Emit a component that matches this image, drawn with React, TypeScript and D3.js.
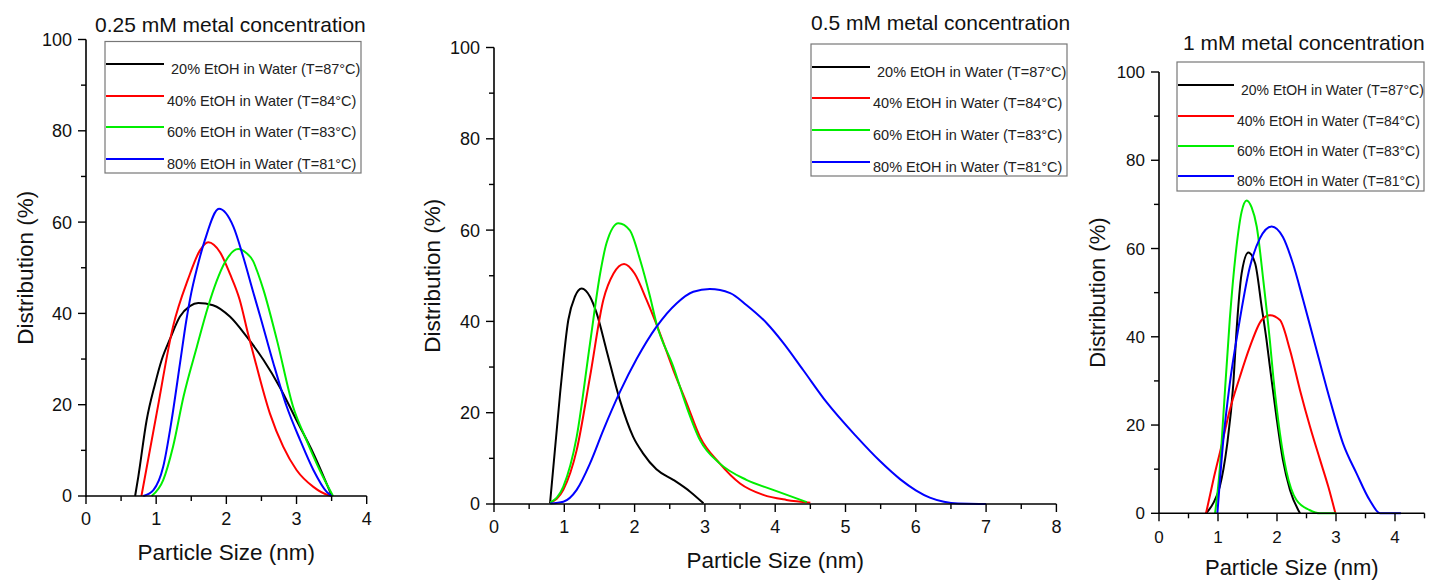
import React from "react";
import * as d3 from "d3";

// ---------- DATA ----------
const seriesLabels = [
  "20% EtOH in Water (T=87\u00B0C)",
  "40% EtOH in Water (T=84\u00B0C)",
  "60% EtOH in Water (T=83\u00B0C)",
  "80% EtOH in Water (T=81\u00B0C)",
];
const seriesColors = ["#000000", "#ff0000", "#00ee00", "#0000ff"];
const titles = ["0.25 mM metal concentration", "0.5 mM metal concentration", "1 mM metal concentration"];
const yTicks = [0, 20, 40, 60, 80, 100];
const xTicks1 = [0, 1, 2, 3, 4];
const xTicks2 = [0, 1, 2, 3, 4, 5, 6, 7, 8];
const xTicks3 = [0, 1, 2, 3, 4];
const xLabel = "Particle Size (nm)";
const yLabel = "Distribution (%)";

// 0.25 mM
const p1Black: [number, number][] = [
  [0.7, 0], [0.745, 4.2], [0.864, 16.6], [0.983, 24.5], [1.078, 29.8], [1.197, 34.4], [1.339, 39.3],
  [1.48, 41.6], [1.6, 42.3], [1.81, 41.8], [2.05, 39.3], [2.29, 34.9], [2.53, 29.8], [2.76, 23.9],
  [3.0, 16.6], [3.24, 9.35], [3.5, 0.1],
];
const p1Red: [number, number][] = [
  [0.79, 0], [1.007, 18.1], [1.24, 37.1], [1.457, 47.6], [1.62, 53.7], [1.743, 55.6], [1.91, 53.4],
  [2.05, 48.7], [2.19, 43.0], [2.31, 35.5], [2.38, 31.4], [2.62, 18.1], [2.81, 10.8], [3.0, 5.7],
  [3.24, 2.0], [3.45, 0.2], [3.5, 0],
];
const p1Green: [number, number][] = [
  [0.935, 0], [1.1, 3.5], [1.24, 10.8], [1.39, 21.8], [1.58, 32.7], [1.74, 41.5], [1.86, 47.0],
  [1.98, 51.2], [2.17, 54.1], [2.28, 53.3], [2.38, 51.5], [2.45, 48.8], [2.53, 45.1], [2.72, 34.2],
  [2.95, 19.6], [3.14, 12.3], [3.33, 5.7], [3.52, 0],
];
const p1Blue: [number, number][] = [
  [0.816, 0], [0.96, 1.3], [1.1, 6.4], [1.22, 16.6], [1.34, 29.1], [1.43, 38.5], [1.5, 44.5],
  [1.58, 49.8], [1.695, 56.1], [1.895, 62.9], [2.1, 59.0], [2.24, 52.4], [2.38, 44.8], [2.48, 39.5],
  [2.67, 29.1], [2.86, 19.6], [3.05, 12.3], [3.24, 5.7], [3.43, 0.9], [3.5, 0],
];

// 0.5 mM
const p2Black: [number, number][] = [
  [0.797, 0.15], [0.94, 24.2], [1.057, 40.3], [1.15, 45.4], [1.247, 47.2], [1.366, 45.4], [1.46, 41.8],
  [1.6, 33.7], [1.79, 22.8], [1.98, 14.7], [2.12, 11.1], [2.31, 7.6], [2.55, 5.3], [2.79, 2.7],
  [2.98, 0.15],
];
const p2Red: [number, number][] = [
  [0.8, 0.3], [0.986, 3.1], [1.176, 11.8], [1.366, 27.9], [1.555, 44.7], [1.7, 50.5], [1.85, 52.6],
  [2.0, 50.5], [2.17, 44.7], [2.36, 37.4], [2.55, 29.4], [2.74, 22.1], [2.93, 14.7], [3.21, 8.9],
  [3.5, 4.5], [3.83, 2.0], [4.16, 0.9], [4.5, 0.3],
];
const p2Green: [number, number][] = [
  [0.8, 0.3], [0.986, 3.8], [1.176, 14.7], [1.366, 35.2], [1.51, 50.5], [1.6, 57.1], [1.77, 61.5],
  [1.93, 60.0], [2.08, 53.4], [2.22, 45.4], [2.31, 39.6], [2.55, 30.1], [2.74, 21.3], [2.93, 14.0],
  [3.21, 8.9], [3.59, 5.3], [3.97, 3.1], [4.45, 0.4],
];
const p2Blue: [number, number][] = [
  [0.8, 0.1], [0.986, 0.5], [1.176, 3.1], [1.366, 8.9], [1.555, 16.2], [1.79, 24.5], [2.03, 31.8],
  [2.31, 38.8], [2.6, 44.0], [2.835, 46.5], [3.07, 47.1], [3.36, 46.2], [3.59, 43.6], [3.88, 39.6],
  [4.12, 35.2], [4.4, 29.3], [4.73, 22.3], [5.16, 14.7], [5.49, 9.4], [5.78, 5.4], [6.0, 3.0],
  [6.2, 1.4], [6.4, 0.5], [6.6, 0.1], [6.9, 0], [7.0, 0],
];

// 1 mM
const p3Black: [number, number][] = [
  [0.797, 0], [0.92, 2.3], [1.03, 6.0], [1.15, 15.1], [1.26, 29.4], [1.31, 40.5], [1.4, 54.3],
  [1.514, 59.1], [1.63, 56.6], [1.74, 46.8], [1.82, 39.5], [1.88, 33.2], [1.99, 21.9], [2.1, 12.1],
  [2.22, 5.3], [2.39, 0],
];
const p3Red: [number, number][] = [
  [0.797, 0], [0.92, 7.5], [1.06, 15.3], [1.2, 23.4], [1.37, 30.9], [1.54, 37.7], [1.74, 43.8],
  [1.88, 44.9], [2.05, 43.8], [2.22, 37.0], [2.39, 27.9], [2.56, 19.6], [2.73, 12.1], [2.87, 6.0],
  [2.99, 0],
];
const p3Green: [number, number][] = [
  [0.95, 0], [1.03, 10.0], [1.09, 22.0], [1.2, 44.0], [1.31, 60.0], [1.4, 68.3], [1.486, 70.9],
  [1.57, 69.3], [1.656, 65.0], [1.768, 52.8], [1.88, 39.0], [1.94, 30.5], [2.05, 18.1], [2.16, 9.5],
  [2.33, 3.0], [2.55, 0.75], [2.73, 0], [3.0, 0],
];
const p3Blue: [number, number][] = [
  [0.99, 0], [1.09, 16.6], [1.2, 29.4], [1.34, 41.5], [1.54, 55.8], [1.71, 62.3], [1.91, 65.0],
  [2.1, 62.6], [2.27, 56.6], [2.44, 48.5], [2.615, 39.8], [2.9, 25.6], [3.12, 15.8],
  [3.35, 9.0], [3.57, 3.0], [3.75, 0], [4.1, 0],
];

// ---------- LAYOUT ----------
type Panel = {
  data: [number, number][][];
  xMax: number;
  xTicks: number[];
  left: number; right: number; top: number; bottom: number;
  title: string; titleX: number; titleY: number;
  leg: { x: number; y: number; w: number; h: number; lines: number[]; x2: number; textX: number[]; fs: number };
  yTitleX: number; xTitleY: number;
  tickFs: number; axisFs: number; xLabOff: number;
};

const panels: Panel[] = [
  {
    data: [p1Black, p1Red, p1Green, p1Blue], xMax: 4, xTicks: xTicks1,
    left: 86, right: 366.7, top: 39.5, bottom: 496,
    title: titles[0], titleX: 95, titleY: 31.5,
    leg: { x: 105, y: 41.5, w: 256, h: 131.5, lines: [64, 96, 127, 159], x2: 164, textX: [171, 167, 167, 167], fs: 14.5 },
    yTitleX: 33, xTitleY: 560, tickFs: 18, axisFs: 22.5, xLabOff: 29,
  },
  {
    data: [p2Black, p2Red, p2Green, p2Blue], xMax: 8, xTicks: xTicks2,
    left: 494, right: 1056.4, top: 47.5, bottom: 504,
    title: titles[1], titleX: 811, titleY: 29.5,
    leg: { x: 811, y: 44, w: 256, h: 132, lines: [67, 98, 130, 162], x2: 870, textX: [877, 873, 873, 873], fs: 14.5 },
    yTitleX: 440, xTitleY: 568, tickFs: 18, axisFs: 22.5, xLabOff: 29,
  },
  {
    data: [p3Black, p3Red, p3Green, p3Blue], xMax: 4.5, xTicks: xTicks3,
    left: 1159, right: 1424.5, top: 72, bottom: 513.3,
    title: titles[2], titleX: 1183, titleY: 50,
    leg: { x: 1177, y: 62, w: 247, h: 129, lines: [85, 116, 146, 176], x2: 1234, textX: [1241, 1237, 1237, 1237], fs: 14 },
    yTitleX: 1105, xTitleY: 575, tickFs: 17, axisFs: 22, xLabOff: 30,
  },
];

const FONT = "'Liberation Sans', Arial, sans-serif";

function PanelView({ p }: { p: Panel }) {
  const x = d3.scaleLinear().domain([0, p.xMax]).range([p.left, p.right]);
  const y = d3.scaleLinear().domain([0, 100]).range([p.bottom, p.top]);
  const line = d3
    .line<[number, number]>()
    .x((d) => x(d[0]))
    .y((d) => y(d[1]))
    .curve(d3.curveMonotoneX);
  const minorX = d3.range(0, p.xMax + 0.001, 0.5).filter((v) => Math.abs(v - Math.round(v)) > 0.01);
  const minorY = d3.range(10, 100, 20);
  return (
    <g fontFamily={FONT}>
      {p.data.map((s, i) => (
        <path key={i} d={line(s) || ""} fill="none" stroke={seriesColors[i]} strokeWidth={2} strokeLinejoin="round" />
      ))}
      {/* axes */}
      <line x1={p.left} x2={p.right} y1={p.bottom} y2={p.bottom} stroke="#000" strokeWidth={1.6} />
      <line x1={p.left} x2={p.left} y1={p.bottom + 0.8} y2={p.top} stroke="#000" strokeWidth={1.6} />
      {yTicks.map((t) => (
        <g key={"y" + t}>
          <line x1={p.left - 8} x2={p.left} y1={y(t)} y2={y(t)} stroke="#000" strokeWidth={1.4} />
          <text x={p.left - 14} y={y(t)} dy="0.36em" textAnchor="end" fontSize={p.tickFs} fill="#111">
            {t}
          </text>
        </g>
      ))}
      {minorY.map((t) => (
        <line key={"my" + t} x1={p.left - 5} x2={p.left} y1={y(t)} y2={y(t)} stroke="#000" strokeWidth={1.4} />
      ))}
      {p.xTicks.map((t) => (
        <g key={"x" + t}>
          <line x1={x(t)} x2={x(t)} y1={p.bottom} y2={p.bottom + 8} stroke="#000" strokeWidth={1.4} />
          <text x={x(t)} y={p.bottom + p.xLabOff} textAnchor="middle" fontSize={p.tickFs} fill="#111">
            {t}
          </text>
        </g>
      ))}
      {minorX.map((t) => (
        <line key={"mx" + t} x1={x(t)} x2={x(t)} y1={p.bottom} y2={p.bottom + 5} stroke="#000" strokeWidth={1.4} />
      ))}
      {/* titles */}
      <text x={p.titleX} y={p.titleY} fontSize={21} fill="#111">
        {p.title}
      </text>
      <text x={(p.left + p.right) / 2} y={p.xTitleY} textAnchor="middle" fontSize={p.axisFs} fill="#111">
        {xLabel}
      </text>
      <text
        transform={`translate(${p.yTitleX},${(p.top + p.bottom) / 2}) rotate(-90)`}
        textAnchor="middle"
        fontSize={p.axisFs}
        fill="#111"
      >
        {yLabel}
      </text>
      {/* legend */}
      <rect x={p.leg.x} y={p.leg.y} width={p.leg.w} height={p.leg.h} fill="#fff" stroke="#777" strokeWidth={1.2} />
      {seriesLabels.map((lab, i) => (
        <g key={"l" + i}>
          <line x1={p.leg.x + 1} x2={p.leg.x2} y1={p.leg.lines[i]} y2={p.leg.lines[i]} stroke={seriesColors[i]} strokeWidth={2} />
          <text x={p.leg.textX[i]} y={p.leg.lines[i] + 9.5} fontSize={p.leg.fs} fill="#222">
            {lab}
          </text>
        </g>
      ))}
    </g>
  );
}

export default function App() {
  return (
    <svg
      width={1429}
      height={581}
      style={{ position: "absolute", left: 0, top: 0, background: "#fff" }}
    >
      <rect width={1429} height={581} fill="#fff" />
      {panels.map((p, i) => (
        <PanelView key={i} p={p} />
      ))}
    </svg>
  );
}
